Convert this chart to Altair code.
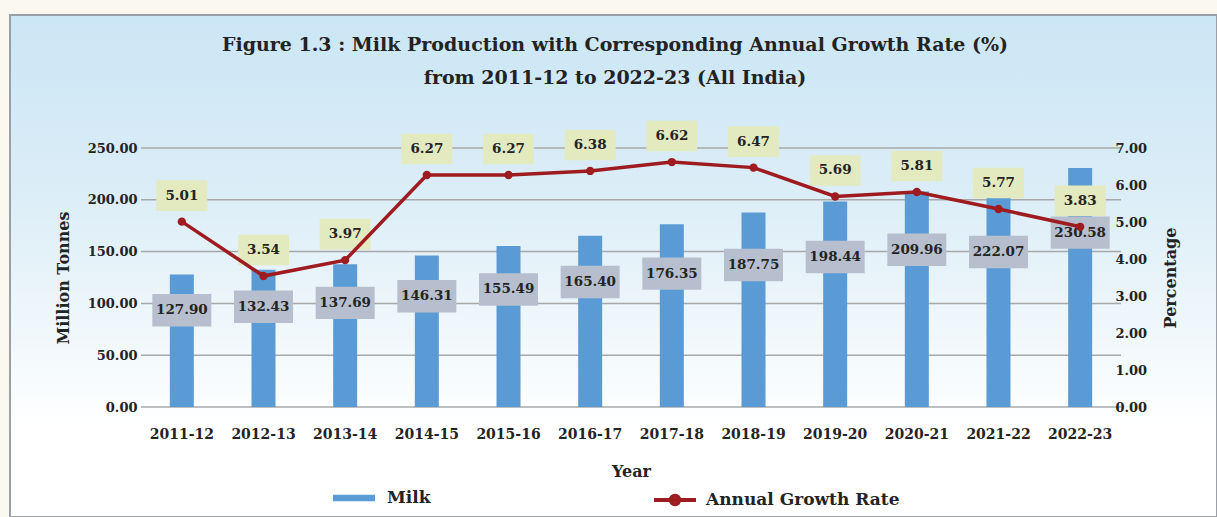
import altair as alt
import pandas as pd

years = ["2011-12", "2012-13", "2013-14", "2014-15", "2015-16", "2016-17",
         "2017-18", "2018-19", "2019-20", "2020-21", "2021-22", "2022-23"]
# bar heights as drawn
milk = [127.90, 132.43, 137.69, 146.31, 155.49, 165.40,
        176.35, 187.75, 198.44, 208.0, 205.0, 230.58]
# data labels as printed on the bars
milk_labels = ["127.90", "132.43", "137.69", "146.31", "155.49", "165.40",
               "176.35", "187.75", "198.44", "209.96", "222.07", "230.58"]
# growth rate points as drawn
growth = [5.01, 3.54, 3.97, 6.27, 6.27, 6.38, 6.62, 6.47, 5.69, 5.81, 5.35, 4.87]
# growth labels as printed
growth_labels = ["5.01", "3.54", "3.97", "6.27", "6.27", "6.38",
                 "6.62", "6.47", "5.69", "5.81", "5.77", "3.83"]
left_ticks = [0, 50, 100, 150, 200, 250]
right_ticks = [0, 1, 2, 3, 4, 5, 6, 7]

df = pd.DataFrame({
    "year": years, "milk": milk, "milk_label": milk_labels,
    "growth": growth, "growth_label": growth_labels,
    "series": ["Milk"] * len(years),
    "gseries": ["Annual Growth Rate"] * len(years),
})
grid_df = pd.DataFrame({"tick": left_ticks})

W, H = 980, 259
PAD = {"left": 141, "top": 148, "right": 96, "bottom": 110}
FONT = "DejaVu Serif"
TXT = "#232323"
BLUE = "#5b9bd5"
RED = "#9e1b20"

x_enc = alt.X("year:N", sort=years,
              scale=alt.Scale(paddingInner=0, paddingOuter=0),
              axis=alt.Axis(title="Year", labelAngle=0, domain=False, ticks=False,
                            grid=False, labelPadding=20, titlePadding=22,
                            labelFontSize=14, titleFontSize=16, zindex=2))

left_scale = alt.Scale(domain=[0, 250], nice=False, zero=True)
left_axis = alt.Axis(orient="left", values=left_ticks, format=".2f",
                     title="Million Tonnes", grid=False, domain=False, ticks=False,
                     labelPadding=4, titlePadding=16,
                     labelFontSize=13, titleFontSize=16, zindex=2)
y_left = alt.Y("milk:Q", scale=left_scale, axis=left_axis)
y_left_lab = alt.Y("label_pos:Q", scale=left_scale, axis=left_axis)

y_right = alt.Y("growth:Q",
                scale=alt.Scale(domain=[0, 7], nice=False, zero=True),
                axis=alt.Axis(orient="right", values=right_ticks, format=".2f",
                              title="Percentage", titleAngle=270, grid=False,
                              domain=False, ticks=False, offset=-8,
                              labelPadding=2, titlePadding=32,
                              labelFontSize=13, titleFontSize=16, zindex=2))

bg = alt.Chart(alt.Data(values=[{}])).mark_rect(
    stroke="#9aa0a6", strokeWidth=2,
    color=alt.Gradient(
        gradient="linear", x1=0, x2=0, y1=0, y2=1,
        stops=[alt.GradientStop(color="#cbe6f5", offset=0),
               alt.GradientStop(color="#dbedf7", offset=0.35),
               alt.GradientStop(color="#eff7fb", offset=0.62),
               alt.GradientStop(color="#ffffff", offset=0.82),
               alt.GradientStop(color="#ffffff", offset=1)])
).encode(
    x=alt.value(-131), x2=alt.value(W + PAD["right"]),
    y=alt.value(-133), y2=alt.value(H + PAD["bottom"]),
)

BAR_BOX = "M-1,-0.55L1,-0.55L1,0.55L-1,0.55Z"
LINE_BOX = "M-1,-0.6L1,-0.6L1,0.6L-1,0.6Z"

base = alt.Chart(df)

grid = alt.Chart(grid_df).mark_rule(color="#a8a8a8", strokeWidth=1.5).encode(
    y=alt.Y("tick:Q", scale=left_scale, axis=left_axis))

bars = base.mark_bar(size=24).encode(
    x=x_enc, y=y_left,
    color=alt.Color("series:N",
                    scale=alt.Scale(domain=["Milk"], range=[BLUE]),
                    legend=alt.Legend(title=None, orient="none", legendX=192, legendY=329,
                                      symbolType="M-1,-0.16L1,-0.16L1,0.16L-1,0.16Z",
                                      symbolSize=1764, symbolStrokeWidth=0,
                                      labelOffset=12, padding=0, labelLimit=300,
                                      labelFont=FONT, labelFontWeight="bold",
                                      labelFontSize=17, labelColor=TXT)),
)
lab_base = base.transform_calculate(label_pos="datum.milk * 0.73")
bar_box = lab_base.mark_point(shape=BAR_BOX, size=3481, filled=True, color="#b7bfce",
                              opacity=1, strokeWidth=0).encode(x=x_enc, y=y_left_lab)
bar_txt = lab_base.mark_text(font=FONT, fontWeight="bold", fontSize=13.5, color=TXT,
                             baseline="middle").encode(
    x=x_enc, y=y_left_lab, text="milk_label:N")

left = alt.layer(grid, bars, bar_box, bar_txt)

g_box = base.mark_point(shape=LINE_BOX, size=2601, filled=True, color="#e3eabf",
                        opacity=1, strokeWidth=0, yOffset=-26).encode(x=x_enc, y=y_right)
g_txt = base.mark_text(font=FONT, fontWeight="bold", fontSize=13.5, color=TXT,
                       dy=-26, baseline="middle").encode(
    x=x_enc, y=y_right, text="growth_label:N")
g_line = base.mark_line(strokeWidth=3.5).encode(
    x=x_enc, y=y_right,
    stroke=alt.Stroke("gseries:N",
                      scale=alt.Scale(domain=["Annual Growth Rate"], range=[RED]),
                      legend=alt.Legend(title=None, orient="none", legendX=511, legendY=329,
                                        symbolType="M-1,0L1,0M-0.2,0A0.2,0.2,0,1,0,0.2,0A0.2,0.2,0,1,0,-0.2,0",
                                        symbolSize=1764, symbolStrokeWidth=4,
                                        labelOffset=8, padding=0, labelLimit=300,
                                        labelFont=FONT, labelFontWeight="bold",
                                        labelFontSize=17, labelColor=TXT)),
)
g_pts = base.mark_point(filled=True, size=70, color=RED, opacity=1).encode(x=x_enc, y=y_right)

right = alt.layer(g_box, g_txt, g_line, g_pts)

chart = alt.layer(bg, left, right).resolve_scale(
    y="independent", color="independent", stroke="independent"
).properties(
    width=W, height=H,
    padding=PAD,
    autosize=alt.AutoSizeParams(type="none"),
    background="#fbf9ef",
    title=alt.TitleParams(
        text=["Figure 1.3 : Milk Production  with Corresponding Annual Growth Rate (%)",
              "from 2011-12 to 2022-23 (All India)"],
        font=FONT, fontSize=19, fontWeight="bold", color=TXT,
        anchor="middle", dx=-16, offset=-74, lineHeight=33),
).configure_axis(
    labelFont=FONT, labelFontWeight="bold", labelColor=TXT,
    titleFont=FONT, titleFontWeight="bold", titleColor=TXT,
).configure_view(stroke=None)

chart.save("out.html", embed_options={"renderer": "svg", "actions": False})
